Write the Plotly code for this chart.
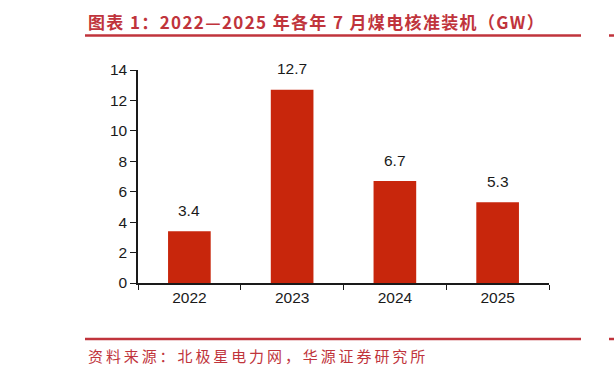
import plotly.graph_objects as go

categories = ["2022", "2023", "2024", "2025"]
values = [3.4, 12.7, 6.7, 5.3]
value_labels = ["3.4", "12.7", "6.7", "5.3"]
y_ticks = [0, 2, 4, 6, 8, 10, 12, 14]

title_text = "图表 1：2022—2025 年各年 7 月煤电核准装机（GW）"
source_text = "资料来源：北极星电力网，华源证券研究所"

W, H = 614, 377
L, R, T, B = 138, 65, 70, 94
PW, PH = W - L - R, H - T - B

def px(x):
    return (x - L) / PW

def py(y):
    return (H - B - y) / PH

BAR = "#C8260C"
RED = "#C0343C"
INK = "#1a1a1a"
NUMFONT = "Liberation Sans, Arial, sans-serif"
CJK = "Noto Sans CJK SC, sans-serif"

fig = go.Figure()
fig.add_trace(go.Bar(
    x=categories, y=values, marker=dict(color=BAR, line=dict(width=0)),
    hoverinfo="skip",
))

annotations = []
for i, (v, t) in enumerate(zip(values, value_labels)):
    annotations.append(dict(x=i, y=v, xref="x", yref="y", text=t, showarrow=False,
                            yshift=21, yanchor="middle",
                            font=dict(family=NUMFONT, size=15.5, color=INK)))

annotations.append(dict(
    x=px(86), y=py(21), xref="paper", yref="paper", xanchor="left", yanchor="middle",
    text='<span style="letter-spacing:1.35px">' + title_text + '</span>', showarrow=False,
    font=dict(family=CJK, size=17, color=RED, weight="bold")))
annotations.append(dict(
    x=px(86), y=py(355), xref="paper", yref="paper", xanchor="left", yanchor="middle",
    text='<span style="letter-spacing:2.9px">' + source_text + '</span>', showarrow=False,
    font=dict(family=CJK, size=15, color=RED)))

shapes = []
for yy in (35.5, 339):
    shapes.append(dict(type="line", xref="paper", yref="paper",
                       x0=px(85), x1=px(581), y0=py(yy), y1=py(yy),
                       line=dict(color=RED, width=2.5)))
    shapes.append(dict(type="line", xref="paper", yref="paper",
                       x0=px(609), x1=px(615), y0=py(yy), y1=py(yy),
                       line=dict(color=RED, width=2.5)))

fig.update_layout(
    width=W, height=H,
    margin=dict(l=L, r=R, t=T, b=B, pad=0),
    paper_bgcolor="white", plot_bgcolor="white",
    showlegend=False,
    bargap=0.585,
    annotations=annotations,
    shapes=shapes,
    xaxis=dict(
        type="category", range=[-0.5, 3.5],
        showline=True, linecolor=INK, linewidth=1.5,
        ticks="outside", tickson="boundaries", ticklen=5, tickwidth=1.3, tickcolor=INK,
        tickfont=dict(family=NUMFONT, size=15.5, color=INK),
        showgrid=False, zeroline=False, fixedrange=True,
    ),
    yaxis=dict(
        range=[0, 14], tickvals=y_ticks,
        showline=True, linecolor=INK, linewidth=1.5,
        ticks="outside", ticklen=6, tickwidth=1.3, tickcolor=INK,
        tickfont=dict(family=NUMFONT, size=15.5, color=INK),
        showgrid=False, zeroline=False, fixedrange=True,
    ),
)

fig.write_html("out.html", config={"displayModeBar": False})
